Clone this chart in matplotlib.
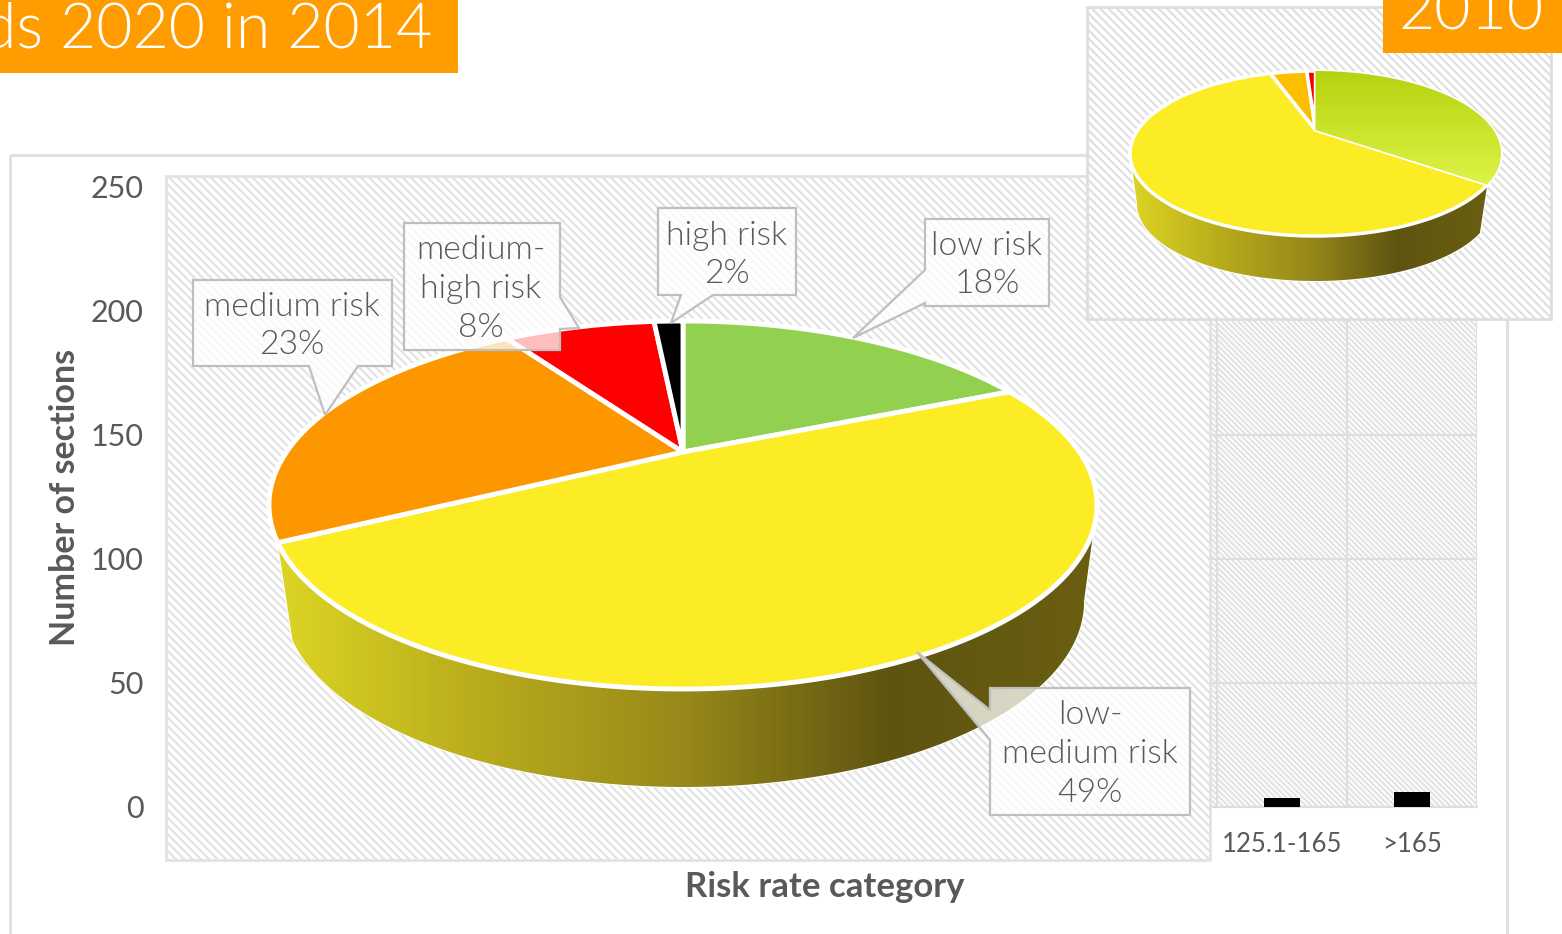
import numpy as np
from matplotlib import pyplot as plt
from matplotlib.colors import LinearSegmentedColormap
from matplotlib.patches import Polygon, Rectangle

plt.rcParams['font.family'] = ['Lato', 'DejaVu Sans']
plt.rcParams['hatch.linewidth'] = 1.5

# bar chart behind the pies, only the last two categories show
bar_categories = ['125.1-165', '>165']
bar_values = [3.6, 6]
y_ticks = [0, 50, 100, 150, 200, 250]

# 2014 pie, share of each slice as drawn, clockwise from the top
pie_names = ['low risk', 'low-medium risk', 'medium risk', 'medium-high risk', 'high risk']
pie_shares = [18.5, 48.8, 23.4, 7.8, 1.5]
pie_colors = ['#92d050', '#fbec25', '#fc9700', '#ff0000', '#000000']
label_texts = ['low risk\n18%', 'low-\nmedium risk\n49%', 'medium risk\n23%',
               'medium-\nhigh risk\n8%', 'high risk\n2%']

# 2010 inset pie
inset_shares = [35.2, 59.6, 4.2, 1.0]
inset_colors = ['#c8e030', '#fbec25', '#fcbf00', '#f00000']

GREY = '#595959'
HATCH = '#e2e2e2'
W, H = 1562, 934

fig = plt.figure(figsize=(W / 100, H / 100), dpi=100, facecolor='white')

# bars
ax = fig.add_axes([177 / W, 1 - 807 / H, 1300 / W, 620 / H], zorder=1)
ax.patch.set(facecolor='white', edgecolor=HATCH, hatch='\\' * 6)
ax.bar(bar_categories, bar_values, width=0.277, color='black', zorder=3)
ax.set_xlim(-8.5, 1.5)
ax.set_ylim(0, 250)
ax.set_yticks(y_ticks)
ax.set_xticks([-0.5, 0.5, 1.5], minor=True)
ax.grid(axis='y', color='#dedede', lw=1.5)
ax.grid(axis='x', which='minor', color='#dedede', lw=1.5)
ax.grid(axis='x', which='major', visible=False)
ax.set_axisbelow(True)
ax.tick_params(which='both', length=0)
ax.tick_params(axis='y', labelsize=22, labelcolor=GREY, pad=24)
ax.tick_params(axis='x', labelsize=18.5, labelcolor=GREY, pad=18)
for s in ax.spines.values():
    s.set_visible(False)
ax.spines['bottom'].set(visible=True, color='#dedede', lw=1.5)

# everything on top is placed in pixels of the picture
ov = fig.add_axes([0, 0, 1, 1], zorder=2)
ov.patch.set_alpha(0)
ov.axis('off')


def pie_point(f, box):
    # circle seen in perspective, apex sits above the middle of the ellipse
    left, right, top, bottom, apex = box
    k = ((bottom - apex) - (apex - top)) / ((bottom - apex) + (apex - top))
    a = (apex - top) * (1 + k)
    c = (right - left) / 2 * np.sqrt(1 - k ** 2)
    t = 2 * np.pi * np.asarray(f)
    x, y = np.sin(t), np.cos(t)
    d = 1 + k * y
    return (left + right) / 2 + c * x / d, apex - a * y / d


def arc(f0, f1, box):
    fs = np.linspace(f0, f1, 300)
    return np.column_stack(pie_point(fs, box))


def gradient_fill(patch, img, extent, cmap):
    im = ov.imshow(img, extent=extent, aspect='auto', cmap=cmap, interpolation='bilinear',
                   zorder=patch.get_zorder())
    im.set_clip_path(patch)


def wall(f0, f1, box, low, **kw):
    # side of the pie, band between the top edge and the same edge lower down
    left, right, top, bottom, apex = box
    cx, cy, rx, ry = (left + right) / 2, (top + bottom) / 2, (right - left) / 2, (bottom - top) / 2
    cx2, cy2, rx2, ry2 = low
    up = arc(f0, f1, box)
    # the back of the rim is hidden, so stop at the left and right extremes
    i0, i1 = np.argmax(up[:, 0]), np.argmin(up[:, 0])
    up = up[i0:i1 + 1]
    dn = np.column_stack([cx2 + (up[:, 0] - cx) * rx2 / rx, cy2 + (up[:, 1] - cy) * ry2 / ry])
    p = Polygon(np.vstack([up, dn[::-1]]), closed=True, **kw)
    ov.add_patch(p)
    return p


def draw_pie(shares, colors, box, lw, z):
    ends = np.cumsum(shares) / sum(shares)
    starts = np.r_[0, ends[:-1]]
    polys = []
    left, right, top, bottom, apex = box
    for f0, f1, col in zip(starts, ends, colors):
        pts = np.vstack([[(left + right) / 2, apex], arc(f0, f1, box)])
        p = Polygon(pts, closed=True, facecolor=col, edgecolor='white', lw=lw, zorder=z, joinstyle='round')
        ov.add_patch(p)
        polys.append(p)
    return starts, ends, polys


wall_map = LinearSegmentedColormap.from_list('wall', ['#dcd425', '#b8ab1c', '#97881a', '#5e5410', '#6a5f10'])
shade = np.linspace(0, 1, 256)[None, :]

# chart frame and panel
ov.add_patch(Rectangle((10, 155), 1497, 800, fc='none', ec='#dedede', lw=2, zorder=1))
ov.add_patch(Rectangle((166, 176), 1044, 684, fc='white', ec=HATCH, hatch='\\' * 4, lw=2, zorder=2))

# big pie
box = (269, 1097, 321, 689, 452)
f_end = np.cumsum(pie_shares) / sum(pie_shares)
side = wall(f_end[0], f_end[1], box, (684, 602, 400, 185), fc='none', ec='white', lw=1.5, zorder=3)
gradient_fill(side, shade, (278, 1096, 790, 320), wall_map)
draw_pie(pie_shares, pie_colors, box, 3.5, 4)

# callouts, outline drawn with the pointer
callouts = [
    [(925, 219), (1049, 219), (1049, 306), (925, 306), (925, 303), (853, 338), (925, 270)],
    [(990, 688), (1190, 688), (1190, 815), (990, 815), (990, 740), (917, 652), (990, 710)],
    [(193, 280), (392, 280), (392, 366), (358, 366), (325, 415), (309, 366), (193, 366)],
    [(404, 223), (560, 223), (560, 297), (579, 328), (560, 329), (560, 350), (404, 350)],
    [(658, 208), (796, 208), (796, 295), (713, 295), (671, 323), (681, 295), (658, 295)],
]
label_pos = [(987, 265), (1090, 754), (292, 326), (481, 289), (727, 255)]
for pts, txt, pos in zip(callouts, label_texts, label_pos):
    ov.add_patch(Polygon(pts, closed=True, fc=(1, 1, 1, 0.75), ec='#bfbfbf', lw=1.6, zorder=5))
    ov.text(pos[0], pos[1], txt, ha='center', va='center', color=GREY, fontsize=24.3,
            fontweight=300, linespacing=1.37, zorder=6)

# axis titles
ov.text(65, 497, 'Number of sections', rotation=90, ha='center', va='center', color=GREY,
        fontsize=24.5, fontweight='bold')
ov.text(825, 887, 'Risk rate category', ha='center', va='center', color=GREY, fontsize=25,
        fontweight='bold')

# inset 2010
ov.add_patch(Rectangle((1087, 7), 464, 312, fc='white', ec='#dedede', hatch='\\' * 4, lw=2, zorder=7))
ibox = (1130, 1501, 71, 236, 130)
ilow = (1315, 204, 178, 77)
i_end = np.cumsum(inset_shares) / sum(inset_shares)
wall(0.02, i_end[0], ibox, ilow, fc='#5f6a25', ec='white', lw=1.5, zorder=8)
iside = wall(i_end[0], i_end[1], ibox, ilow, fc='none', ec='white', lw=1.5, zorder=8)
gradient_fill(iside, shade, (1132, 1487, 285, 120), wall_map)
_, _, ipolys = draw_pie(inset_shares, inset_colors, ibox, 2.5, 9)
green_map = LinearSegmentedColormap.from_list('green', ['#b5d20f', '#e0f54a'])
gradient_fill(ipolys[0], np.linspace(0, 1, 256)[:, None], (1315, 1501, 190, 70), green_map)

# orange title boxes
ov.add_patch(Rectangle((0, 0), 458, 73, fc='#ff9c00', ec='none', zorder=10))
ov.text(432, 48, 'ds 2020 in 2014', ha='right', va='baseline', color='white', fontsize=45,
        fontweight=300, zorder=11)
ov.add_patch(Rectangle((1383, 0), 179, 53, fc='#ff9c00', ec='none', zorder=10))
ov.text(1544, 30, '2010', ha='right', va='baseline', color='white', fontsize=45,
        fontweight=300, zorder=11)

ov.set_xlim(0, W)
ov.set_ylim(H, 0)

fig.savefig('out.png', dpi=100)
print('done')
